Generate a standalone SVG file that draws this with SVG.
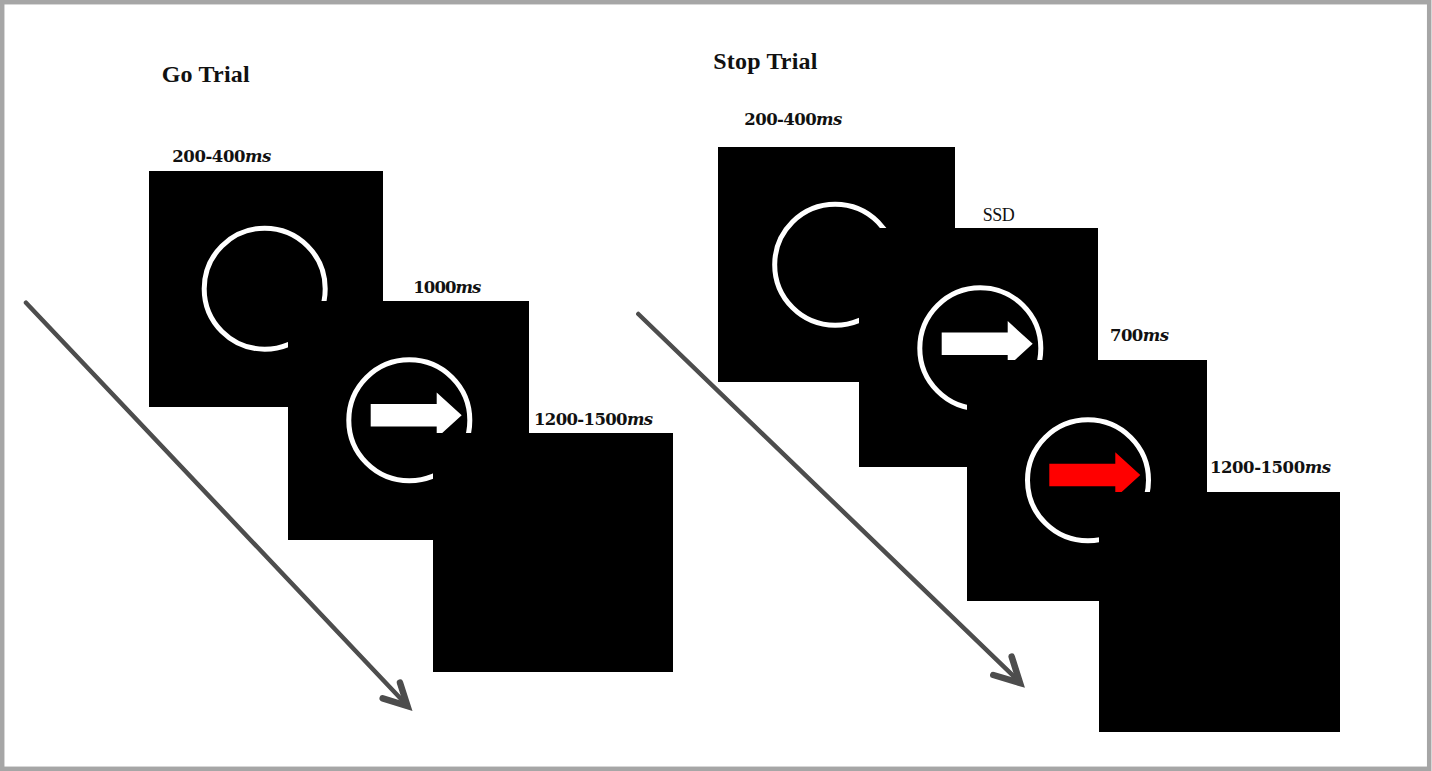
<svg xmlns="http://www.w3.org/2000/svg" xmlns:xlink="http://www.w3.org/1999/xlink" width="1432" height="771" viewBox="0 0 1432 771">
<style>
.panel{fill:#000}
.ring{fill:none;stroke:#fff;stroke-width:5}
.title{font-family:"Liberation Serif","Times New Roman",serif;font-weight:bold;font-size:24px;fill:#111}
.lbl{font-family:"DejaVu Serif","Liberation Serif",serif;font-weight:bold;font-size:16.5px;fill:#111}
.ms{font-style:italic}
.ssd{font-family:"Liberation Serif","Times New Roman",serif;font-size:18px;fill:#111}
.time{fill:none;stroke:#4d4d4d;stroke-width:4.5;stroke-linecap:round}
.head{fill:none;stroke:#4d4d4d;stroke-width:6.5;stroke-linecap:round;stroke-linejoin:miter}
</style>
<defs>
<path id="arr" d="M0,-11.3 H66 V-22.7 L91,0 L66,22.7 V11.3 H0 Z"/>
</defs>
<rect x="0" y="0" width="1432" height="771" fill="#fff"/>
<rect x="2.2" y="2.2" width="1427" height="766.6" fill="none" stroke="#a6a6a6" stroke-width="4.5"/>

<g id="connectors">
<line class="time" x1="26" y1="302.7" x2="406" y2="704.2"/>
<polyline class="head" points="382.7,698.3 407.5,706 400,682.7"/>
<line class="time" x1="638.3" y1="314" x2="1018.5" y2="680.8"/>
<polyline class="head" points="993.3,675 1020,683 1011.7,656.7"/>
</g>

<g id="go-title"><text class="title" x="161.7" y="82.3" textLength="88">Go Trial</text></g>
<g id="stop-title"><text class="title" x="713.3" y="69.3" textLength="104">Stop Trial</text></g>

<g id="go-fixation">
<rect class="panel" x="149" y="171" width="234" height="236"/>
<circle class="ring" cx="264.7" cy="288.7" r="60.5"/>
<text class="lbl" x="172.3" y="161.7" textLength="99">200-400<tspan class="ms">ms</tspan></text>
</g>
<g id="go-stimulus">
<rect class="panel" x="288" y="301" width="241" height="239"/>
<circle class="ring" cx="409.3" cy="420.3" r="60.5"/>
<use xlink:href="#arr" href="#arr" transform="translate(370.7,415.3)" fill="#fff"/>
<text class="lbl" x="413.3" y="293.3" textLength="68">1000<tspan class="ms">ms</tspan></text>
</g>
<g id="go-blank">
<rect class="panel" x="433" y="433" width="240" height="239"/>
<text class="lbl" x="534" y="425" textLength="119">1200-1500<tspan class="ms">ms</tspan></text>
</g>

<g id="stop-fixation">
<rect class="panel" x="718" y="147" width="237" height="235"/>
<circle class="ring" cx="835.2" cy="264.8" r="60.5"/>
<text class="lbl" x="744.3" y="125" textLength="98">200-400<tspan class="ms">ms</tspan></text>
</g>
<g id="stop-go-signal">
<rect class="panel" x="859" y="228" width="239" height="239"/>
<circle class="ring" cx="980.3" cy="348.3" r="60.5"/>
<use xlink:href="#arr" href="#arr" transform="translate(941.7,343.8)" fill="#fff"/>
<text class="ssd" x="982.7" y="220.7" textLength="32">SSD</text>
</g>
<g id="stop-signal">
<rect class="panel" x="967" y="360" width="240" height="241"/>
<circle class="ring" cx="1088" cy="480.3" r="60.5"/>
<use xlink:href="#arr" href="#arr" transform="translate(1049.3,475)" fill="#f00"/>
<text class="lbl" x="1110" y="340.7" textLength="59">700<tspan class="ms">ms</tspan></text>
</g>
<g id="stop-blank">
<rect class="panel" x="1099" y="492" width="241" height="240"/>
<text class="lbl" x="1210" y="472.7" textLength="121">1200-1500<tspan class="ms">ms</tspan></text>
</g>
</svg>
